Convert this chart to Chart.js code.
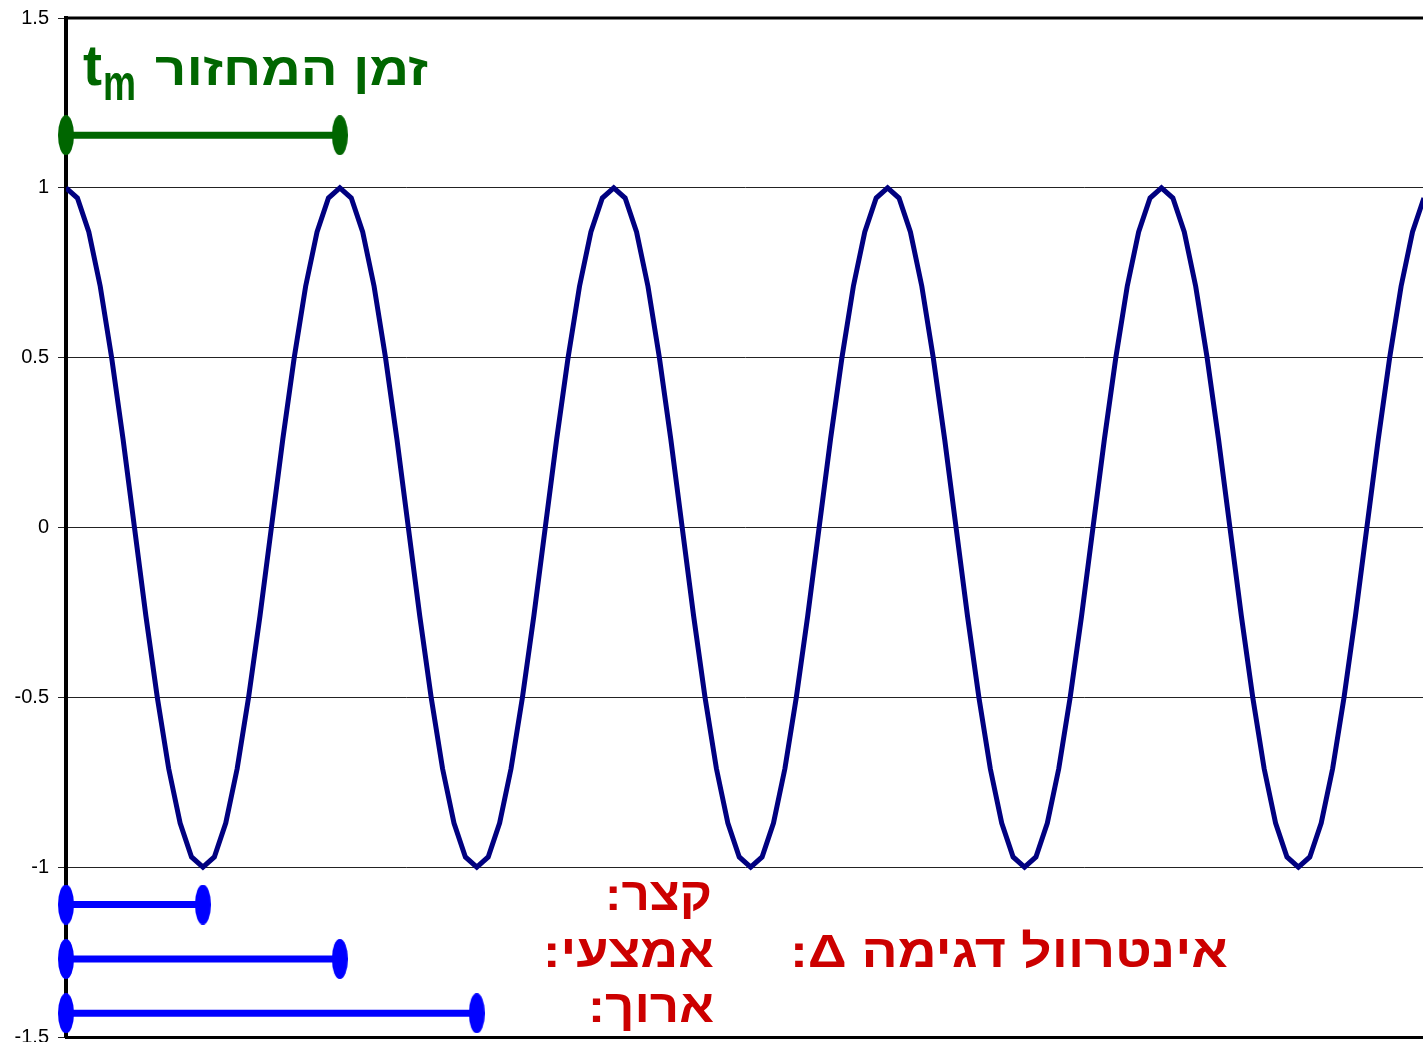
<!DOCTYPE html>
<html lang="he">
<head>
<meta charset="utf-8">
<title>זמן המחזור ואינטרוול דגימה</title>
<script src="https://cdn.jsdelivr.net/npm/chart.js@4/dist/chart.umd.min.js"></script>
<style>
  html, body { margin: 0; padding: 0; background: #fff; overflow: hidden; }
  #wrap { width: 1423px; height: 1060px; }
</style>
</head>
<body>
<div id="wrap"><canvas id="chart" width="1423" height="1060"></canvas></div>
<script>
// ----- Dados -----
// cosseno amostrado: 24 amostras por período (tempo em períodos)
const samplesPerPeriod = 24;
const waveValues = [
  1, 0.97, 0.87, 0.71, 0.5, 0.26, 0, -0.26, -0.5, -0.71, -0.87, -0.97, -1, -0.97, -0.87, -0.71, -0.5, -0.26, 0, 0.26, 0.5, 0.71, 0.87, 0.97,
  1, 0.97, 0.87, 0.71, 0.5, 0.26, 0, -0.26, -0.5, -0.71, -0.87, -0.97, -1, -0.97, -0.87, -0.71, -0.5, -0.26, 0, 0.26, 0.5, 0.71, 0.87, 0.97,
  1, 0.97, 0.87, 0.71, 0.5, 0.26, 0, -0.26, -0.5, -0.71, -0.87, -0.97, -1, -0.97, -0.87, -0.71, -0.5, -0.26, 0, 0.26, 0.5, 0.71, 0.87, 0.97,
  1, 0.97, 0.87, 0.71, 0.5, 0.26, 0, -0.26, -0.5, -0.71, -0.87, -0.97, -1, -0.97, -0.87, -0.71, -0.5, -0.26, 0, 0.26, 0.5, 0.71, 0.87, 0.97,
  1, 0.97, 0.87, 0.71, 0.5, 0.26, 0, -0.26, -0.5, -0.71, -0.87, -0.97, -1, -0.97, -0.87, -0.71, -0.5, -0.26, 0, 0.26, 0.5, 0.71, 0.87, 0.97
];

// segmento do período (t_m)
const periodStart = 0;
const periodLength = 1;
const periodLevel = 1.155;

// intervalos de amostragem: curto, médio, longo
const intervalNames = ['קצר', 'אמצעי', 'ארוך'];
const intervalLengths = [0.5, 1, 1.5];
const intervalLevels = [-1.11, -1.27, -1.43];

const yTicks = [-1.5, -1, -0.5, 0, 0.5, 1, 1.5];
const xMax = 4.955;

// ----- Marcador elíptico -----
function ellipseMarker(color) {
  const c = document.createElement('canvas');
  c.width = 16; c.height = 40;
  const g = c.getContext('2d');
  g.fillStyle = color;
  g.beginPath();
  g.ellipse(8, 20, 8, 20, 0, 0, Math.PI * 2);
  g.fill();
  return c;
}
const greenMark = ellipseMarker('#006600');
const blueMark = ellipseMarker('#0000ff');

// ----- Datasets -----
const waveData = waveValues.map((v, i) => ({ x: i / samplesPerPeriod, y: v }));

const datasets = [
  {
    label: 'cos',
    data: waveData,
    borderColor: '#000080',
    borderWidth: 5,
    pointRadius: 0,
    tension: 0,
    fill: false,
  },
  {
    label: 'tm',
    data: [
      { x: periodStart, y: periodLevel },
      { x: periodStart + periodLength, y: periodLevel },
    ],
    borderColor: '#006600',
    borderWidth: 7,
    pointStyle: greenMark,
    clip: false,
  },
];

intervalLengths.forEach((len, i) => {
  datasets.push({
    label: intervalNames[i],
    data: [
      { x: 0, y: intervalLevels[i] },
      { x: len, y: intervalLevels[i] },
    ],
    borderColor: '#0000ff',
    borderWidth: 7,
    pointStyle: blueMark,
    clip: false,
  });
});

// ----- Textos e moldura -----
const FONT = '"Liberation Sans", Arial, "DejaVu Sans", sans-serif';

function fitText(ctx, text, left, right, baseline, size, color, rtl) {
  ctx.save();
  ctx.font = 'bold ' + size + 'px ' + FONT;
  ctx.direction = rtl ? 'rtl' : 'ltr';
  ctx.textAlign = 'left';
  ctx.textBaseline = 'alphabetic';
  const w = ctx.measureText(text).width;
  ctx.translate(left, baseline);
  ctx.scale((right - left) / w, 1);
  ctx.fillStyle = color;
  ctx.fillText(text, 0, 0);
  ctx.restore();
}

const overlayPlugin = {
  id: 'overlay',
  beforeDatasetsDraw(chart) {
    const { ctx, chartArea } = chart;
    ctx.save();
    ctx.strokeStyle = '#000';
    ctx.lineWidth = 3;
    ctx.beginPath();
    ctx.moveTo(chartArea.left, chartArea.top);
    ctx.lineTo(chartArea.right, chartArea.top);
    ctx.stroke();
    ctx.restore();
  },
  afterDatasetsDraw(chart) {
    const ctx = chart.ctx;
    // título verde
    fitText(ctx, 't', 83, 102, 85, 58, '#006600', false);
    fitText(ctx, 'm', 103, 136, 100, 50, '#006600', false);
    fitText(ctx, 'זמן המחזור', 155, 428, 85, 46, '#006600', true);
    // rótulos vermelhos
    fitText(ctx, 'קצר:', 605, 712, 910, 46, '#cc0000', true);
    fitText(ctx, 'אמצעי:', 543, 714, 967, 46, '#cc0000', true);
    fitText(ctx, 'ארוך:', 588, 714, 1022, 46, '#cc0000', true);
    fitText(ctx, 'אינטרוול דגימה Δ:', 790, 1228, 967, 46, '#cc0000', true);
  },
};

// ----- Gráfico -----
const ctx = document.getElementById('chart').getContext('2d');
new Chart(ctx, {
  type: 'line',
  data: { datasets },
  options: {
    responsive: false,
    animation: false,
    events: [],
    layout: { autoPadding: false, padding: { top: 17, bottom: 18, left: 0, right: 0 } },
    plugins: {
      legend: { display: false },
      tooltip: { enabled: false },
    },
    scales: {
      x: {
        type: 'linear',
        min: 0,
        max: xMax,
        ticks: { display: false },
        grid: { display: false },
        border: { display: true, color: '#000', width: 3 },
        afterFit(scale) { scale.height = 5; },
      },
      y: {
        min: -1.5,
        max: 1.5,
        afterBuildTicks(scale) { scale.ticks = yTicks.map(v => ({ value: v })); },
        ticks: {
          color: '#000',
          padding: 9,
          font: { family: FONT, size: 20, lineHeight: 0.9 },
          callback: v => String(v),
        },
        grid: { color: '#222', lineWidth: 1, tickLength: 8 },
        border: { display: true, color: '#000', width: 4 },
        afterFit(scale) { scale.width = 66; },
      },
    },
  },
  plugins: [overlayPlugin],
});
</script>
</body>
</html>
